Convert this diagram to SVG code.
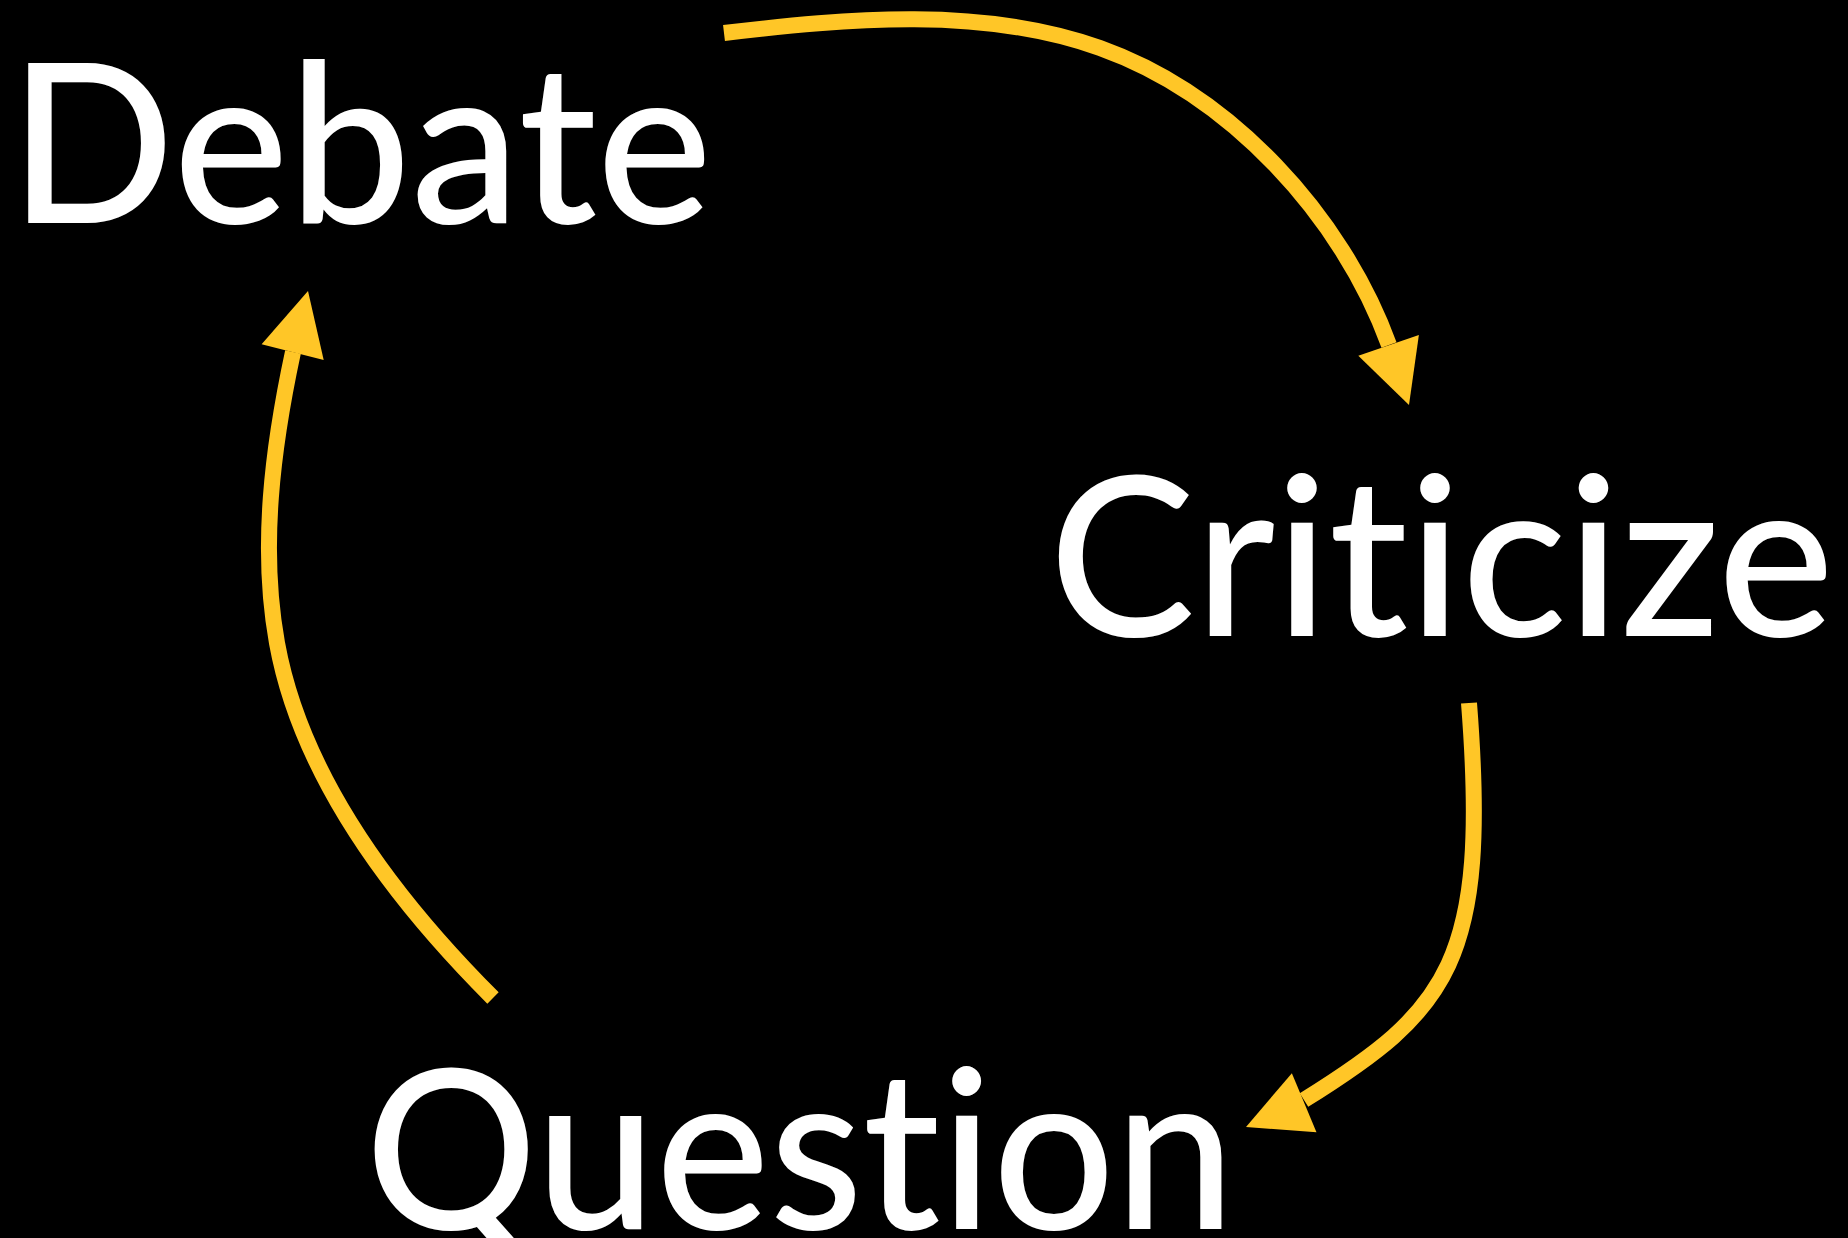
<svg xmlns="http://www.w3.org/2000/svg" width="1848" height="1238" viewBox="0 0 1848 1238">
<style>
.lbl{font-family:Lato,"Liberation Sans",sans-serif;font-size:223px;fill:#ffffff;font-weight:500;font-variant-ligatures:none;font-feature-settings:"liga" 0,"clig" 0}
.arc{fill:none;stroke:#FFC627;stroke-width:16}
.head{fill:#FFC627}
</style>
<defs>
<path id="arrowhead" class="head" d="M0,0 L-63,-32 L-63,32 Z"/>
</defs>
<rect x="0" y="0" width="1848" height="1238" fill="#000000"/>
<g id="connectors">
<path class="arc" d="M724,33 C848.1,18.3 982.3,6 1100,48 C1230,94.4 1341.8,215.3 1389,345"/>
<use href="#arrowhead" transform="translate(1409,405) rotate(71.1)"/>
<path class="arc" d="M1469,703 C1489.3,962.2 1448.5,1009.9 1304,1100"/>
<use href="#arrowhead" transform="translate(1246,1127) rotate(157.4)"/>
<path class="arc" d="M493,998 C395.4,900.4 301.6,778.8 277,643 C259.7,547.6 272.6,447.1 293,352"/>
<use href="#arrowhead" transform="translate(308,291) rotate(-75.9)"/>
</g>
<g id="node-debate"><text class="lbl" x="9" y="223" textLength="703" lengthAdjust="spacingAndGlyphs">Debate</text></g>
<g id="node-criticize"><text class="lbl" x="1049" y="636" textLength="785" lengthAdjust="spacingAndGlyphs">Criticize</text></g>
<g id="node-question"><text class="lbl" x="365" y="1229" textLength="870" lengthAdjust="spacingAndGlyphs">Question</text></g>
</svg>
